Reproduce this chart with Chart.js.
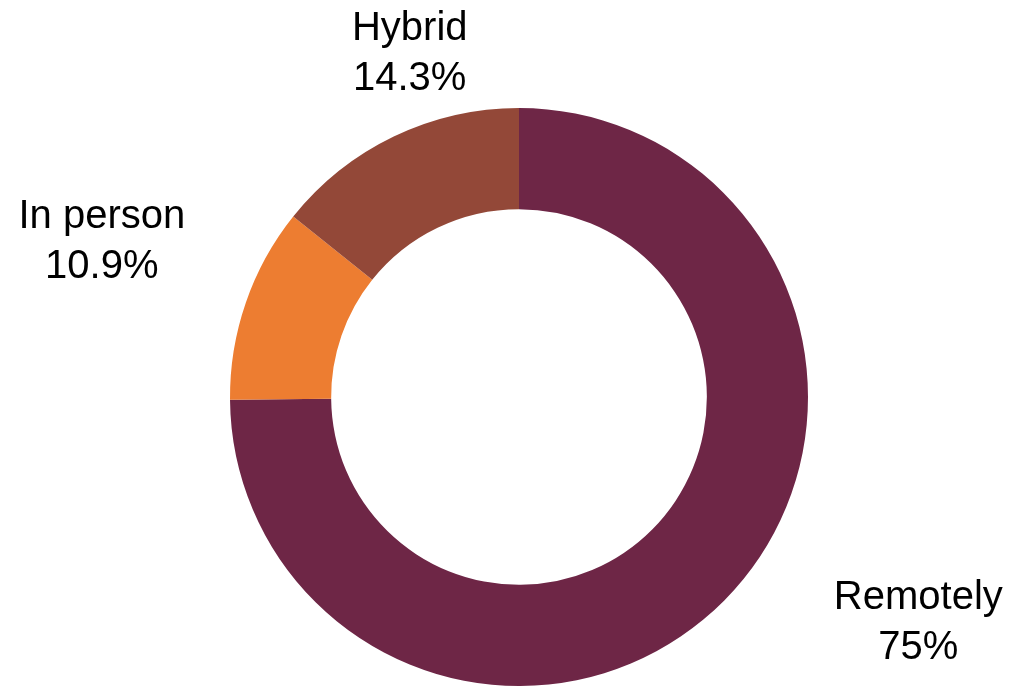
<!DOCTYPE html>
<html>
<head>
<meta charset="utf-8">
<style>
  html, body { margin: 0; padding: 0; background: #fff; }
  #wrap { width: 1013px; height: 686px; position: relative; }
</style>
<script src="https://cdn.jsdelivr.net/npm/chart.js@4/dist/chart.umd.min.js"></script>
</head>
<body>
<div id="wrap"><canvas id="chart"></canvas></div>
<script>
(function() {
  'use strict';

  // --- Data ---
  const categories  = ['Remotely', 'In person', 'Hybrid'];
  const shares      = [75, 10.9, 14.3];
  const shareLabels = ['75%', '10.9%', '14.3%'];
  const colors      = ['#6E2646', '#ED7D31', '#934838'];

  // label placement, relative to the outer midpoint of each slice
  const labelOffsets = [[194, 23], [-144, -61], [16, -83]];

  const outsideLabels = {
    id: 'outsideLabels',
    afterDatasetsDraw(chart) {
      const ctx = chart.ctx;
      const meta = chart.getDatasetMeta(0);
      ctx.save();
      ctx.font = '40px "Liberation Sans", Arial, sans-serif';
      ctx.fillStyle = '#000';
      ctx.textAlign = 'center';
      ctx.textBaseline = 'middle';
      meta.data.forEach((arc, i) => {
        const p = arc.getProps(['x', 'y', 'startAngle', 'endAngle', 'outerRadius'], true);
        const mid = (p.startAngle + p.endAngle) / 2;
        const x = p.x + Math.cos(mid) * p.outerRadius + labelOffsets[i][0];
        const y = p.y + Math.sin(mid) * p.outerRadius + labelOffsets[i][1];
        ctx.fillText(categories[i], x, y - 25);
        ctx.fillText(shareLabels[i], x, y + 25);
      });
      ctx.restore();
    }
  };

  new Chart(document.getElementById('chart'), {
    type: 'doughnut',
    data: {
      labels: categories,
      datasets: [{
        data: shares,
        backgroundColor: colors,
        borderWidth: 0
      }]
    },
    options: {
      responsive: true,
      maintainAspectRatio: false,
      animation: false,
      cutout: '65%',
      layout: { padding: { top: 108, bottom: 0, left: 230, right: 205 } },
      plugins: {
        legend: { display: false },
        tooltip: { enabled: false }
      }
    },
    plugins: [outsideLabels]
  });
})();
</script>
</body>
</html>
